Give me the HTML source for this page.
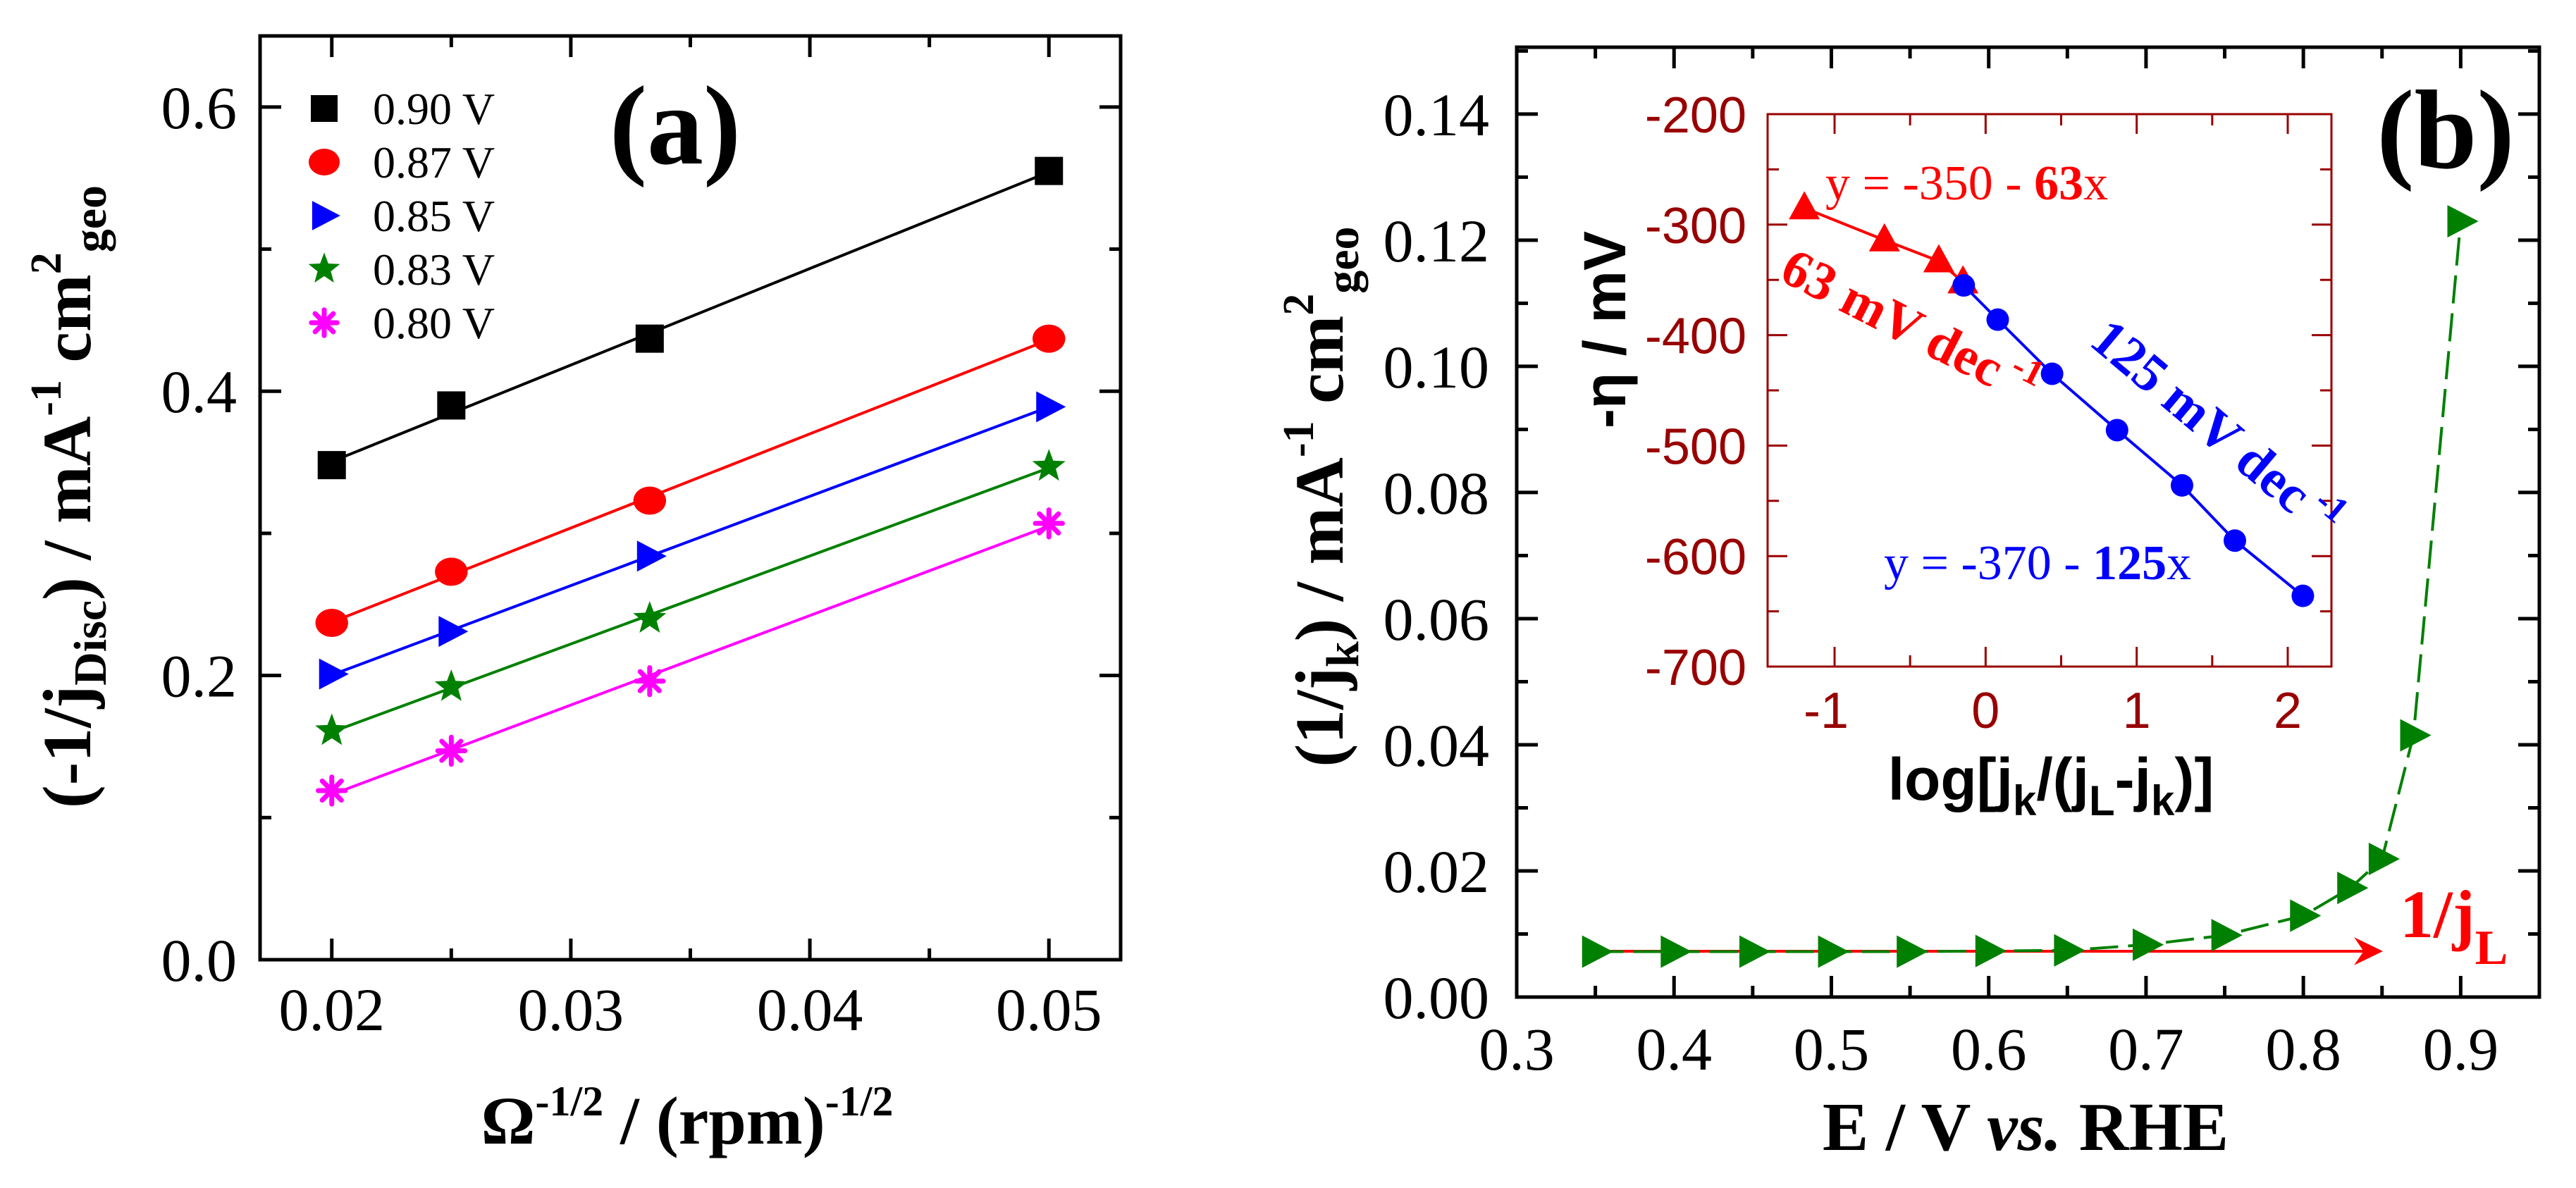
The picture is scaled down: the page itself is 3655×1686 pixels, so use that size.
<!DOCTYPE html>
<html><head><meta charset="utf-8"><style>
html,body{margin:0;padding:0;background:#fff;}
svg{display:block;}
text{font-family:"Liberation Serif","Times New Roman",serif;}
text.sans{font-family:"Liberation Sans",Arial,sans-serif;}
</style></head><body>
<svg id="fig" width="3655" height="1686" viewBox="0 0 3655 1686" xmlns="http://www.w3.org/2000/svg" font-family="Liberation Serif, serif">
<g id="pa"></g>
<g id="pb"></g>
<g id="pi"></g>
</svg>
<script>
// ---------- Panel (a) data ----------
const aX = [0.02, 0.025, 0.0333, 0.05];
const aLabels = ["0.90 V","0.87 V","0.85 V","0.83 V","0.80 V"];
const a090 = [0.348, 0.390, 0.437, 0.555];
const a087 = [0.237, 0.273, 0.323, 0.437];
const a085 = [0.201, 0.231, 0.284, 0.389];
const a083 = [0.161, 0.192, 0.240, 0.347];
const a080 = [0.119, 0.147, 0.196, 0.307];
const aXTicks = [0.02, 0.03, 0.04, 0.05];
const aYTicks = [0.0, 0.2, 0.4, 0.6];
// ---------- Panel (b) data ----------
const bE = [0.35,0.40,0.45,0.50,0.55,0.60,0.65,0.70,0.75,0.80,0.83,0.85,0.87,0.90];
const bInvJk = [0.0072,0.0072,0.0072,0.0072,0.0072,0.0073,0.0074,0.0083,0.0098,0.0129,0.0173,0.0219,0.0415,0.123];
const bJL = 0.0072;
const bXTicks = [0.3,0.4,0.5,0.6,0.7,0.8,0.9];
const bYTicks = [0.00,0.02,0.04,0.06,0.08,0.10,0.12,0.14];
// ---------- Inset data ----------
const iRedX = [-1.2, -0.67, -0.31, -0.15];
const iRedY = [-285, -314, -333, -352];
const iBlueX = [-0.145, 0.08, 0.44, 0.87, 1.30, 1.65, 2.10];
const iBlueY = [-355, -386, -435, -486, -536, -586, -636];
const iXTicks = [-1, 0, 1, 2];
const iYTicks = [-200, -300, -400, -500, -600, -700];

const NS="http://www.w3.org/2000/svg";
function mk(parent, tag, attrs, txt){
  const e=document.createElementNS(NS,tag);
  for(const k in attrs) e.setAttribute(k,attrs[k]);
  if(txt!==undefined) e.textContent=txt;
  parent.appendChild(e); return e;
}
function lin(d0,d1,p0,p1){return v=>p0+(v-d0)*(p1-p0)/(d1-d0);}
function fit(xs,ys){const n=xs.length;let sx=0,sy=0,sxx=0,sxy=0;for(let i=0;i<n;i++){sx+=xs[i];sy+=ys[i];sxx+=xs[i]*xs[i];sxy+=xs[i]*ys[i];}const m=(n*sxy-sx*sy)/(n*sxx-sx*sx);return [m,(sy-m*sx)/n];}

function marker(g,type,x,y,color,s){
  let e;
  if(type==='square') e=mk(g,'rect',{x:x-s/2,y:y-s/2,width:s,height:s,fill:color});
  else if(type==='circle') e=mk(g,'ellipse',{cx:x,cy:y,rx:s*0.58,ry:s*0.5,fill:color});
  else if(type==='tri-right') e=mk(g,'polygon',{points:`${x-s*0.45},${y-s*0.55} ${x+s*0.6},${y} ${x-s*0.45},${y+s*0.55}`,fill:color});
  else if(type==='tri-up') e=mk(g,'polygon',{points:`${x},${y-s*0.6} ${x+s*0.55},${y+s*0.4} ${x-s*0.55},${y+s*0.4}`,fill:color});
  else if(type==='star'){let p=[];for(let i=0;i<10;i++){const r=i%2?s*0.26:s*0.62;const a=-Math.PI/2+i*Math.PI/5;p.push((x+r*Math.cos(a)).toFixed(1)+','+(y+r*Math.sin(a)).toFixed(1));}e=mk(g,'polygon',{points:p.join(' '),fill:color});}
  else if(type==='asterisk'){e=mk(g,'g',{stroke:color,'stroke-width':7,'stroke-linecap':'round'});for(let i=0;i<4;i++){const a=i*Math.PI/4;const r=s*0.48;mk(e,'line',{x1:x-r*Math.cos(a),y1:y-r*Math.sin(a),x2:x+r*Math.cos(a),y2:y+r*Math.sin(a)});}}
  return e;
}

// ===== Panel a =====
(function(){
  const g=document.getElementById('pa');
  const L=369,R=1590,T=51,B=1362;
  const X=lin(0.017,0.053,L,R), Y=lin(0,0.65,B,T);
  const frame=mk(g,'rect',{x:L,y:T,width:R-L,height:B-T,fill:'none',stroke:'#000','stroke-width':5});
  
  
  for(let v=0.02;v<=0.0501;v+=0.005){
    const major=Math.abs(v*100-Math.round(v*100))<1e-6; const len=major?30:16;
    mk(g,'line',{x1:X(v),y1:B,x2:X(v),y2:B-len,stroke:'#000','stroke-width':5});
    mk(g,'line',{x1:X(v),y1:T,x2:X(v),y2:T+len,stroke:'#000','stroke-width':5});
  }
  for(let v=0;v<=0.6001;v+=0.1){
    const major=Math.round(v*10)%2===0; const len=major?30:16;
    mk(g,'line',{x1:L,y1:Y(v),x2:L+len,y2:Y(v),stroke:'#000','stroke-width':5});
    mk(g,'line',{x1:R,y1:Y(v),x2:R-len,y2:Y(v),stroke:'#000','stroke-width':5});
  }
  aXTicks.forEach(v=>{const t=mk(g,'text',{x:X(v),y:1462,'font-size':86,'text-anchor':'middle'},v.toFixed(2));
    
    });
  aYTicks.forEach(v=>{const t=mk(g,'text',{x:336,y:Y(v)+30,'font-size':86,'text-anchor':'end'},v.toFixed(1));
    
    });
  const series=[[a090,'#000','square'],[a087,'#ff0000','circle'],[a085,'#0000ff','tri-right'],[a083,'#008000','star'],[a080,'#ff00ff','asterisk']];
  series.forEach((s,i)=>{
    const sg=mk(g,'g',{});
    
    
    const [m,b]=fit(aX,s[0]);
    mk(sg,'line',{x1:X(aX[0]),y1:Y(m*aX[0]+b),x2:X(aX[3]),y2:Y(m*aX[3]+b),stroke:s[1],'stroke-width':4});
    aX.forEach((x,j)=>marker(sg,s[2],X(x),Y(s[0][j]),s[1],40));
    const ly=154+i*76;
    const lg=mk(g,'g',{});
    
    
    marker(lg,s[2],460,ly,s[1],38);
    mk(lg,'text',{x:529,y:ly+22,'font-size':64},aLabels[i]);
  });
  const lab=mk(g,'text',{x:958,y:232,'font-size':160,'font-weight':'bold','text-anchor':'middle'},'(a)');
  
  
  const xl=mk(g,'text',{x:975,y:1623,'font-size':96,'font-weight':'bold','text-anchor':'middle'});
  
  
  xl.innerHTML='Ω<tspan dy="-40" font-size="60">-1/2</tspan><tspan dy="40"> / (rpm)</tspan><tspan dy="-40" font-size="60">-1/2</tspan>';
  const yl=mk(g,'text',{x:0,y:0,'font-size':98,'font-weight':'bold','text-anchor':'middle',transform:'translate(128,705) rotate(-90)'});
  
  
  yl.innerHTML='(-1/j<tspan dy="22" font-size="66">Disc</tspan><tspan dy="-22">) / mA</tspan><tspan dy="-42" font-size="62">-1</tspan><tspan dy="42"> cm</tspan><tspan dy="-42" font-size="62">2</tspan><tspan dy="64" font-size="66">geo</tspan>';
})();

// ===== Panel b =====
(function(){
  const g=document.getElementById('pb');
  const L=2152,R=3603,T=67,B=1415;
  const X=lin(0.3,0.95,L,R), Y=lin(0,0.1506,B,T);
  const frame=mk(g,'rect',{x:L,y:T,width:R-L,height:B-T,fill:'none',stroke:'#000','stroke-width':5});
  
  
  for(let k=0;k<=12;k++){const v=0.3+k*0.05;const len=k%2===0?30:16;
    mk(g,'line',{x1:X(v),y1:B,x2:X(v),y2:B-len,stroke:'#000','stroke-width':5});
    mk(g,'line',{x1:X(v),y1:T,x2:X(v),y2:T+len,stroke:'#000','stroke-width':5});}
  for(let k=0;k<=15;k++){const v=k*0.01;const len=k%2===0?30:16;
    mk(g,'line',{x1:L,y1:Y(v),x2:L+len,y2:Y(v),stroke:'#000','stroke-width':5});
    mk(g,'line',{x1:R,y1:Y(v),x2:R-len,y2:Y(v),stroke:'#000','stroke-width':5});}
  bXTicks.forEach(v=>{const t=mk(g,'text',{x:X(v),y:1518,'font-size':86,'text-anchor':'middle'},v.toFixed(1));
    
    });
  bYTicks.forEach(v=>{const t=mk(g,'text',{x:2113,y:Y(v)+30,'font-size':86,'text-anchor':'end'},v.toFixed(2));
    
    });
  const ar=mk(g,'g',{});
  
  
  const ay=Y(bJL)+(1350-Y(bJL));
  mk(ar,'line',{x1:X(0.35),y1:ay,x2:X(0.847)-10,y2:ay,stroke:'#ff0000','stroke-width':4});
  mk(ar,'polygon',{points:`${X(0.849)},${ay} ${X(0.849)-33},${ay-16} ${X(0.849)-22},${ay} ${X(0.849)-33},${ay+16}`,fill:'#ff0000',stroke:'#ff0000','stroke-width':3});
  const jl=mk(g,'text',{x:3405,y:1330,'font-size':96,'font-weight':'bold',fill:'#ff0000'});
  
  
  jl.innerHTML='1/j<tspan dy="38" font-size="70">L</tspan>';
  const sg=mk(g,'g',{});
  
  
  const pts=bE.map((e,i)=>[X(e),Y(bInvJk[i])]);
  mk(sg,'polyline',{points:pts.map(p=>p.join(',')).join(' '),fill:'none',stroke:'#008000','stroke-width':4,'stroke-dasharray':'40 14'});
  pts.forEach(p=>marker(sg,'tri-right',p[0],p[1],'#008000',42));
  const lab=mk(g,'text',{x:3470,y:238,'font-size':160,'font-weight':'bold','text-anchor':'middle'},'(b)');
  
  
  const xl=mk(g,'text',{x:2874,y:1632,'font-size':98,'font-weight':'bold','text-anchor':'middle'});
  
  
  xl.innerHTML='E / V <tspan font-style="italic">vs.</tspan> RHE';
  const yl=mk(g,'text',{x:0,y:0,'font-size':98,'font-weight':'bold','text-anchor':'middle',transform:'translate(1905,705) rotate(-90)'});
  
  
  yl.innerHTML='(1/j<tspan dy="22" font-size="66">k</tspan><tspan dy="-22">) / mA</tspan><tspan dy="-42" font-size="62">-1</tspan><tspan dy="42"> cm</tspan><tspan dy="-42" font-size="62">2</tspan><tspan dy="64" font-size="66">geo</tspan>';
})();

// ===== Inset =====
(function(){
  const g=document.getElementById('pi');
  const L=2508,R=3308,T=162,B=946;
  const X=lin(-1,2,2603,3246), Y=lin(-200,-700,T,B);
  const dr='#990000';
  const frame=mk(g,'rect',{x:L,y:T,width:R-L,height:B-T,fill:'#fff',stroke:dr,'stroke-width':3});
  
  
  for(let k=-2;k<=9;k++){const v=k*0.5-1;const x=X(v);if(x<L+2||x>R-2)continue;const len=k%2===0?28:16;
    mk(g,'line',{x1:x,y1:B,x2:x,y2:B-len,stroke:dr,'stroke-width':3});
    mk(g,'line',{x1:x,y1:T,x2:x,y2:T+len,stroke:dr,'stroke-width':3});}
  for(let k=0;k<=10;k++){const v=-200-k*50;const len=k%2===0?28:16;
    mk(g,'line',{x1:L,y1:Y(v),x2:L+len,y2:Y(v),stroke:dr,'stroke-width':3});
    mk(g,'line',{x1:R,y1:Y(v),x2:R-len,y2:Y(v),stroke:dr,'stroke-width':3});}
  iXTicks.forEach(v=>{const t=mk(g,'text',{x:X(v)-(v<0?12:0),y:1033,'font-size':72,'text-anchor':'middle',fill:dr,class:'sans'},String(v));
    
    });
  iYTicks.forEach(v=>{const t=mk(g,'text',{x:2478,y:Y(v)+26,'font-size':72,'text-anchor':'end',fill:dr,class:'sans'},String(v));
    
    });
  const rg=mk(g,'g',{});
  
  
  mk(rg,'polyline',{points:iRedX.map((x,i)=>X(x)+','+Y(iRedY[i])).join(' '),fill:'none',stroke:'#ff0000','stroke-width':4});
  iRedX.forEach((x,i)=>marker(rg,'tri-up',X(x),Y(iRedY[i]),'#ff0000',40));
  const bg=mk(g,'g',{});
  
  
  mk(bg,'polyline',{points:iBlueX.map((x,i)=>X(x)+','+Y(iBlueY[i])).join(' '),fill:'none',stroke:'#0000ff','stroke-width':4});
  iBlueX.forEach((x,i)=>mk(bg,'circle',{cx:X(x),cy:Y(iBlueY[i]),r:16,fill:'#0000ff'}));
  const e1=mk(g,'text',{x:2590,y:283,'font-size':70,fill:'#ff0000'});
  
  
  e1.innerHTML='y = -350 - <tspan font-weight="bold">63</tspan>x';
  const e2=mk(g,'text',{x:2673,y:822,'font-size':70,fill:'#0000ff'});
  
  
  e2.innerHTML='y = -370 - <tspan font-weight="bold">125</tspan>x';
  const s1=mk(g,'text',{x:0,y:0,'font-size':76,'font-weight':'bold',fill:'#ff0000',transform:'translate(2522,396) rotate(27)'});
  
  
  s1.innerHTML='63 mV dec<tspan dy="-30" font-size="52"> -1</tspan>';
  const s2=mk(g,'text',{x:0,y:0,'font-size':76,'font-weight':'bold',fill:'#0000ff',transform:'translate(2962,488) rotate(40)'});
  
  
  s2.innerHTML='125 mV dec<tspan dy="-30" font-size="52"> -1</tspan>';
  const xl=mk(g,'text',{x:2910,y:1135,'font-size':84,'font-weight':'bold','text-anchor':'middle',class:'sans'});
  
  
  xl.innerHTML='log[j<tspan dy="22" font-size="60">k</tspan><tspan dy="-22">/(j</tspan><tspan dy="22" font-size="60">L</tspan><tspan dy="-22">-j</tspan><tspan dy="22" font-size="60">k</tspan><tspan dy="-22">)]</tspan>';
  const yl=mk(g,'text',{x:0,y:0,'font-size':84,'font-weight':'bold','text-anchor':'middle',class:'sans',transform:'translate(2306,468) rotate(-90)'},'-η / mV');
  
  
})();
</script>
</body></html>
